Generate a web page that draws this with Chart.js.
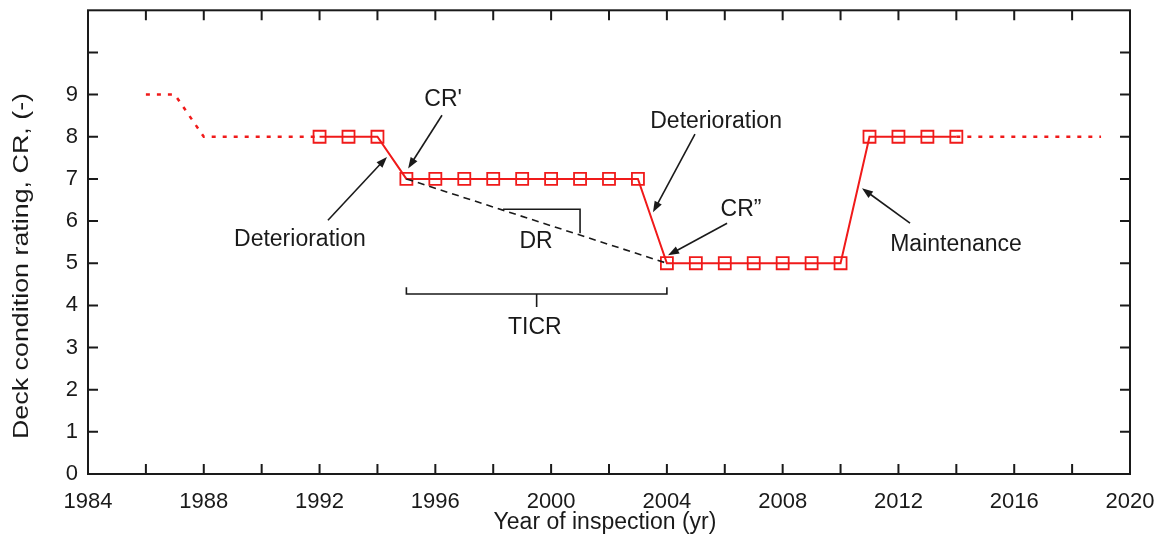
<!DOCTYPE html>
<html>
<head>
<meta charset="utf-8">
<script src="https://cdn.jsdelivr.net/npm/chart.js@4.4.1/dist/chart.umd.min.js"></script>
<style>
  html, body { margin: 0; padding: 0; background: #fff; }
  #wrap { width: 1160px; height: 546px; }
  canvas { display: block; }
</style>
</head>
<body>
<div id="wrap"><canvas id="grafica" width="1160" height="546"></canvas></div>
<script>
// Datos
const anios = [1992, 1993, 1994, 1995, 1996, 1997, 1998, 1999, 2000, 2001, 2002, 2003,
               2004, 2005, 2006, 2007, 2008, 2009, 2010, 2011, 2012, 2013, 2014];
const valores = [8, 8, 8, 7, 7, 7, 7, 7, 7, 7, 7, 7, 5, 5, 5, 5, 5, 5, 5, 8, 8, 8, 8];

const aniosPrevios = [1986, 1987, 1988, 1992];
const valoresPrevios = [9, 9, 8, 8];

const aniosPosteriores = [2014, 2019];
const valoresPosteriores = [8, 8];

const aniosDR = [1995, 2004];
const valoresDR = [7, 5];

const etiquetasX = [1984, 1988, 1992, 1996, 2000, 2004, 2008, 2012, 2016, 2020];
const etiquetasY = [0, 1, 2, 3, 4, 5, 6, 7, 8, 9];

// Anotaciones (en coordenadas de datos)
const textos = [
    { t: "CR'", x: 1996.27, y: 8.87 },
    { t: "Deterioration", x: 1991.32, y: 5.55 },
    { t: "DR", x: 1999.48, y: 5.52 },
    { t: "TICR", x: 1999.44, y: 3.46 },
    { t: "Deterioration", x: 2005.70, y: 8.35 },
    { t: "CR\u201D", x: 2006.56, y: 6.26 },
    { t: "Maintenance", x: 2013.99, y: 5.45 }
];
const flechas = [
    [1992.29, 6.02, 1994.33, 7.52],
    [1996.23, 8.51, 1995.06, 7.25],
    [2004.97, 8.06, 2003.52, 6.21],
    [2006.08, 5.95, 2004.04, 5.19],
    [2012.40, 5.95, 2010.74, 6.78]
];
const triangulo = [[1998.34, 6.28], [2001.0, 6.28], [2001.0, 5.71]];
const llave = { x1: 1995, x2: 2004, xm: 1999.5, y: 4.27, yFin: 4.43, yPico: 3.96 };

const rojo = "#f01a1a";
const negro = "#1a1a1a";

function puntos(xs, ys) {
    return xs.map((x, i) => ({ x: x, y: ys[i] }));
}

const marco = {
    id: "marco",
    afterDatasetsDraw(chart) {
        const ctx = chart.ctx;
        const a = chart.chartArea;
        const sx = chart.scales.x, sy = chart.scales.y;
        ctx.save();
        ctx.strokeStyle = negro;
        ctx.lineWidth = 2;
        ctx.strokeRect(a.left, a.top, a.right - a.left, a.bottom - a.top);
        ctx.beginPath();
        for (let v = 1986; v < 2020; v += 2) {
            const px = sx.getPixelForValue(v);
            ctx.moveTo(px, a.bottom); ctx.lineTo(px, a.bottom - 10);
            ctx.moveTo(px, a.top); ctx.lineTo(px, a.top + 10);
        }
        for (let v = 1; v < 11; v++) {
            const py = sy.getPixelForValue(v);
            ctx.moveTo(a.left, py); ctx.lineTo(a.left + 10, py);
            ctx.moveTo(a.right, py); ctx.lineTo(a.right - 10, py);
        }
        ctx.stroke();

        // flechas
        ctx.lineWidth = 1.6;
        ctx.fillStyle = negro;
        flechas.forEach(f => {
            const x1 = sx.getPixelForValue(f[0]), y1 = sy.getPixelForValue(f[1]);
            const x2 = sx.getPixelForValue(f[2]), y2 = sy.getPixelForValue(f[3]);
            const ang = Math.atan2(y2 - y1, x2 - x1);
            const L = 11, W = 4;
            ctx.beginPath();
            ctx.moveTo(x1, y1);
            ctx.lineTo(x2 - (L - 2) * Math.cos(ang), y2 - (L - 2) * Math.sin(ang));
            ctx.stroke();
            ctx.beginPath();
            ctx.moveTo(x2, y2);
            ctx.lineTo(x2 - L * Math.cos(ang) + W * Math.sin(ang), y2 - L * Math.sin(ang) - W * Math.cos(ang));
            ctx.lineTo(x2 - L * Math.cos(ang) - W * Math.sin(ang), y2 - L * Math.sin(ang) + W * Math.cos(ang));
            ctx.closePath();
            ctx.fill();
        });

        // triángulo de pendiente
        ctx.lineWidth = 1.6;
        ctx.beginPath();
        triangulo.forEach((p, i) => {
            const px = sx.getPixelForValue(p[0]), py = sy.getPixelForValue(p[1]);
            if (i === 0) ctx.moveTo(px, py); else ctx.lineTo(px, py);
        });
        ctx.stroke();

        // llave TICR
        const bx1 = sx.getPixelForValue(llave.x1), bx2 = sx.getPixelForValue(llave.x2);
        const bxm = sx.getPixelForValue(llave.xm);
        const by = sy.getPixelForValue(llave.y), byf = sy.getPixelForValue(llave.yFin);
        const byp = sy.getPixelForValue(llave.yPico);
        ctx.beginPath();
        ctx.moveTo(bx1, byf); ctx.lineTo(bx1, by); ctx.lineTo(bx2, by); ctx.lineTo(bx2, byf);
        ctx.moveTo(bxm, by); ctx.lineTo(bxm, byp);
        ctx.stroke();

        // textos
        ctx.font = "23px 'Liberation Sans', Arial, sans-serif";
        ctx.textAlign = "center";
        ctx.textBaseline = "middle";
        textos.forEach(t => {
            ctx.fillText(t.t, sx.getPixelForValue(t.x), sy.getPixelForValue(t.y));
        });

        // títulos de ejes
        ctx.font = "23px 'Liberation Sans', Arial, sans-serif";
        ctx.fillText("Year of inspection (yr)", 605, 523);
        ctx.font = "22px 'Liberation Sans', Arial, sans-serif";
        ctx.translate(22, 266);
        ctx.rotate(-Math.PI / 2);
        ctx.scale(1.22, 1);
        ctx.fillText("Deck condition rating, CR, (-)", 0, 0);
        ctx.restore();
    }
};

const ctx = document.getElementById("grafica").getContext("2d");

new Chart(ctx, {
    type: "scatter",
    data: {
        datasets: [
            {
                label: "Previo",
                data: puntos(aniosPrevios, valoresPrevios),
                showLine: true,
                borderColor: rojo,
                borderWidth: 2.5,
                borderDash: [4, 7],
                pointRadius: 0
            },
            {
                label: "Posterior",
                data: puntos(aniosPosteriores, valoresPosteriores),
                showLine: true,
                borderColor: rojo,
                borderWidth: 2.5,
                borderDash: [4, 7],
                pointRadius: 0
            },
            {
                label: "DR",
                data: puntos(aniosDR, valoresDR),
                showLine: true,
                borderColor: negro,
                borderWidth: 1.6,
                borderDash: [7, 5],
                pointRadius: 0
            },
            {
                label: "CR",
                data: puntos(anios, valores),
                showLine: true,
                borderColor: rojo,
                borderWidth: 2,
                pointStyle: "rect",
                pointRadius: 8.5,
                pointBorderWidth: 1.8,
                pointBorderColor: rojo,
                pointBackgroundColor: "rgba(0,0,0,0)"
            }
        ]
    },
    options: {
        responsive: false,
        animation: false,
        layout: { padding: { top: 10, right: 30, left: 0, bottom: 0 } },
        plugins: { legend: { display: false }, tooltip: { enabled: false } },
        scales: {
            x: {
                type: "linear",
                min: 1984, max: 2020,
                grid: { display: false, drawTicks: false },
                border: { display: false },
                afterFit: s => {
                    s.height = 72;
                    s.paddingLeft = 0; s.paddingRight = 0;
                },
                ticks: {
                    stepSize: 2,
                    autoSkip: false,
                    maxRotation: 0,
                    padding: 15,
                    color: negro,
                    font: { family: "'Liberation Sans', Arial, sans-serif", size: 22 },
                    callback: v => etiquetasX.includes(v) ? String(v) : ""
                }
            },
            y: {
                min: 0, max: 11,
                grid: { display: false, drawTicks: false },
                border: { display: false },
                afterFit: s => {
                    s.width = 88;
                    s.paddingTop = 0; s.paddingBottom = 0;
                },
                ticks: {
                    stepSize: 1,
                    autoSkip: false,
                    padding: 10,
                    color: negro,
                    font: { family: "'Liberation Sans', Arial, sans-serif", size: 22 },
                    callback: v => etiquetasY.includes(v) ? String(v) : ""
                }
            }
        }
    },
    plugins: [marco]
});
</script>
</body>
</html>
